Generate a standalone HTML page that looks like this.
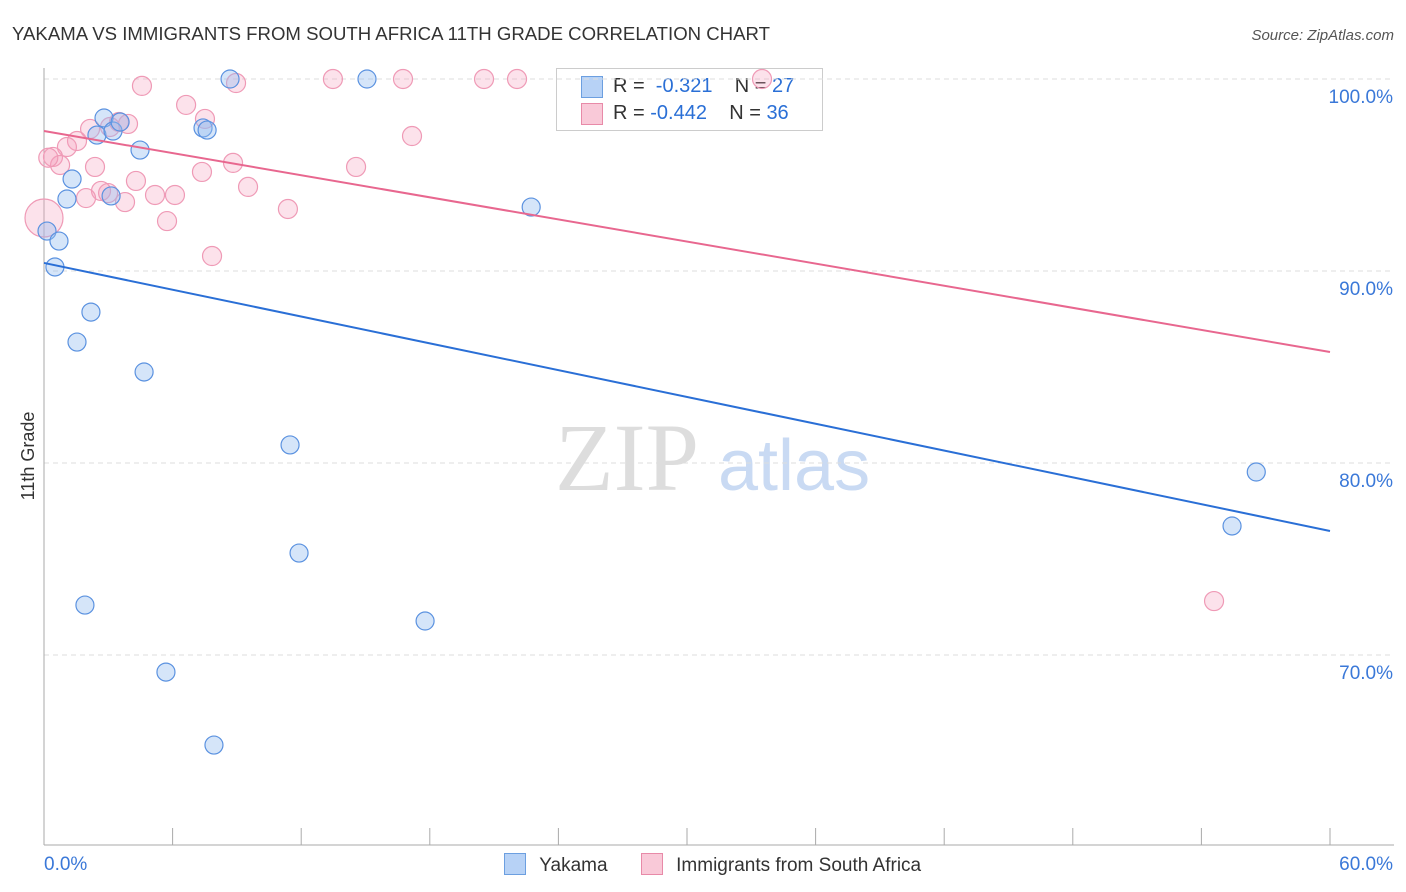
<!DOCTYPE html>
<html><head><meta charset="utf-8"><style>
body{margin:0;background:#fff;font-family:"Liberation Sans",sans-serif;}
#wrap{position:relative;width:1406px;height:892px;overflow:hidden;}
#svg{position:absolute;left:0;top:0;}
</style></head><body><div id="wrap">
<div style="position:absolute;left:556px;top:68px;width:265px;height:61px;border:1px solid #ccc;background:#fff;font-size:20px;color:#333;">
 <div style="position:absolute;left:24px;top:7px;width:20px;height:20px;background:#b7d2f6;border:1px solid #6c9fe0;"></div>
 <div style="position:absolute;left:56px;top:6px;">R = &nbsp;<span style="color:#2a6fd6">-0.321</span>&nbsp;&nbsp;&nbsp; N = <span style="color:#2a6fd6">27</span></div>
 <div style="position:absolute;left:24px;top:34px;width:20px;height:20px;background:#f9c9d8;border:1px solid #e88aa8;"></div>
 <div style="position:absolute;left:56px;top:33px;">R = <span style="color:#2a6fd6">-0.442</span>&nbsp;&nbsp;&nbsp; N = <span style="color:#2a6fd6">36</span></div>
</div>
<svg id="svg" width="1406" height="892" xmlns="http://www.w3.org/2000/svg">
<text x="12" y="40" font-size="18.6" fill="#333">YAKAMA VS IMMIGRANTS FROM SOUTH AFRICA 11TH GRADE CORRELATION CHART</text>
<text x="1394" y="40" font-size="15" fill="#555" text-anchor="end" font-style="italic">Source: ZipAtlas.com</text>
<text x="34" y="456" font-size="18" fill="#333" text-anchor="middle" transform="rotate(-90 34 456)">11th Grade</text>
<text x="555" y="490" font-size="96" fill="#ddd" font-family="Liberation Serif,serif">ZIP</text>
<text x="718" y="490" font-size="72" fill="#c9daf3">atlas</text>
<g id="grid"></g><g id="marks"></g>
</svg>
<div style="position:absolute;left:504px;top:853px;font-size:19px;color:#333;">
 <span style="display:inline-block;width:20px;height:20px;background:#b7d2f6;border:1px solid #6c9fe0;vertical-align:-4px"></span>
 <span style="margin-left:8px">Yakama</span>
 <span style="display:inline-block;width:20px;height:20px;background:#f9c9d8;border:1px solid #e88aa8;vertical-align:-4px;margin-left:28px"></span>
 <span style="margin-left:8px">Immigrants from South Africa</span>
</div>
</div>
<script>
const blueX=[8.68,15.07,2.80,2.47,3.22,3.55,7.42,7.61,4.48,1.31,1.07,3.13,22.73,0.14,0.70,0.51,2.19,1.54,4.67,11.48,56.56,55.43,11.90,1.91,17.78,5.69,7.93];
const blueY=[100,100,97.97,97.08,97.29,97.76,97.45,97.34,96.30,94.79,93.75,93.91,93.33,92.08,91.56,90.21,87.86,86.30,84.74,80.94,79.53,76.72,75.31,72.60,71.77,69.11,65.31];
const pinkX=[4.57,8.96,13.48,16.75,20.53,22.07,33.50,6.63,7.51,3.50,3.92,2.15,17.17,1.54,1.07,0.42,0.75,2.38,8.82,14.56,7.37,4.29,9.52,2.66,2.99,1.96,5.18,6.11,3.78,11.38,5.74,7.84,0,54.59,3.08,0.2];
const pinkY=[99.64,99.79,100,100,100,100,100,98.65,97.92,97.76,97.66,97.40,97.03,96.77,96.46,95.94,95.52,95.42,95.63,95.42,95.16,94.69,94.38,94.17,94.06,93.80,93.96,93.96,93.59,93.23,92.60,90.78,92.76,72.81,97.5,95.9];
const blueTrend=[90.42,76.46];
const pinkTrend=[97.29,85.78];
const yTicks=[100,90,80,70];
const xTickLabels=["0.0%","60.0%"];
const sx=v=>44+v/60*1286, sy=v=>79+(100-v)*19.2;
const NS="http://www.w3.org/2000/svg";
function mk(tag,attrs,parent){const e=document.createElementNS(NS,tag);for(const k in attrs)e.setAttribute(k,attrs[k]);parent.appendChild(e);return e;}
const g=document.getElementById('grid'), m=document.getElementById('marks');
yTicks.forEach(t=>{
 const l=mk('line',{x1:44,x2:1394,y1:sy(t),y2:sy(t),stroke:'#ddd','stroke-dasharray':'5,4'},g);
 
 
 const tx=mk('text',{x:1393,y:sy(t)+24,'font-size':19,fill:'#3a78d8','text-anchor':'end'},g);
 tx.textContent=t.toFixed(1)+'%';
 
 
});
const ax=mk('line',{x1:44,x2:44,y1:68,y2:845,stroke:'#aaa'},g);


const bx=mk('line',{x1:44,x2:1394,y1:845,y2:845,stroke:'#aaa'},g);


for(let i=0;i<=10;i++){const x=44+i*128.6;const t=mk('line',{x1:x,x2:x,y1:828,y2:845,stroke:'#aaa'},g);
 
 }
xTickLabels.forEach((s,i)=>{const t=mk('text',{x:i?1393:44,y:870,'font-size':19,fill:'#3a78d8','text-anchor':i?'end':'start'},g);t.textContent=s;
 
 });
pinkX.forEach((x,i)=>{const r=(x===0)?19:9.5;const c=mk('circle',{cx:sx(x),cy:sy(pinkY[i]),r:r,fill:'rgba(244,160,188,0.3)',stroke:'#ef9ab6','stroke-width':1.2},m);
 
 });
blueX.forEach((x,i)=>{const c=mk('circle',{cx:sx(x),cy:sy(blueY[i]),r:9,fill:'rgba(150,190,240,0.4)',stroke:'#5b92e0','stroke-width':1.2},m);
 
 });
const bl=mk('line',{x1:sx(0),x2:sx(60),y1:sy(blueTrend[0]),y2:sy(blueTrend[1]),stroke:'#2a6fd6','stroke-width':2},m);


const pl=mk('line',{x1:sx(0),x2:sx(60),y1:sy(pinkTrend[0]),y2:sy(pinkTrend[1]),stroke:'#e8678f','stroke-width':2},m);


</script></body></html>
